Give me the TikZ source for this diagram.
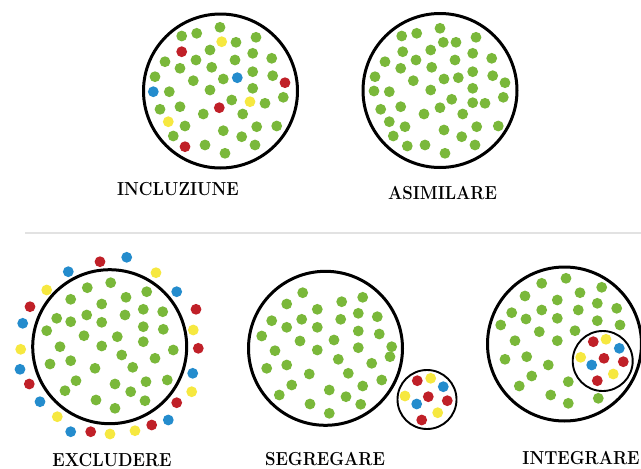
\documentclass[tikz,border=0pt]{standalone}
\usepackage{graphicx}
\definecolor{gr}{RGB}{122,184,58}
\definecolor{rd}{RGB}{192,32,40}
\definecolor{bl}{RGB}{36,140,205}
\definecolor{yl}{RGB}{246,232,64}
\definecolor{sep}{RGB}{226,226,226}
\newcommand\labtxt[1]{\scalebox{1}[1.12]{#1}}
\tikzset{
  big/.style={draw=black,line width=3pt},
  small/.style={draw=black,line width=1.9pt,fill=white},
  lab/.style={font=\bfseries\fontsize{16.8}{18}\selectfont,text=black,inner sep=0pt}
}
\begin{document}
\begin{tikzpicture}[x=1pt,y=-1pt]
\useasboundingbox (0,0) rectangle (641,469);
\fill[white] (0,0) rectangle (641,469);
% separator
\coordinate (sepL) at (25,233);
\coordinate (sepR) at (641,233);
\draw[sep,line width=2pt] (sepL) -- (sepR);

% ---------- INCLUZIUNE ----------
\draw[big] (220.5,91) circle[radius=77];
\foreach \x/\y in {220/27.3,181.7/36,196.7/33.3,236/42.3,256/37.3,210/50,252.7/53.3,165/61.7,196/60,235/60,271.7/58.3,180/68.3,211.7/67.3,252.7/71.7,155/76.7,193.3/80.7,223.3/79,272.7/75.7,169.3/91.7,210/90,252.7/88.3,283.3/97.3,231.7/100,265/103.3,160/109.3,180/106.7,203.3/114,242.7/114,185/126,223.3/130.7,256.7/126.7,276.7/126,173.3/136,241.7/136.7,205/145,255/145,225/153.3}
  \fill[gr] (\x,\y) circle[radius=5.4];
\foreach \x/\y/\c in {221.7/41.7/yl,181.7/51.7/rd,237.3/77.7/bl,285/82.7/rd,153.3/91.7/bl,250/101.7/yl,219.3/107.7/rd,168.3/121.7/yl,185/146.7/rd}
  \fill[\c] (\x,\y) circle[radius=5.4];
\node[lab] (incl) at (178,189) {\labtxt{INCLUZIUNE}};

% ---------- ASIMILARE ----------
\draw[big] (440,90.5) circle[radius=77];
\foreach \x/\y in {440/28.3,401.7/36,416.7/33.3,443.3/42.3,456/42.3,476/37.3,402.7/51.7,430.7/50,472.7/53.3,385/61.7,416/60,455/60,491.7/58.3,400.7/68.3,431.7/67.3,472.7/71.7,375/76.7,413.3/80.7,444/79,458.3/77.7,492.7/75.7,505/82.7,374/91,389.3/91.7,430.7/90,472.7/88.3,503.3/97.3,451.7/99.3,472.7/102.7,485/103.3,380.7/109.3,400.7/106.7,440/107.7,424/114,462.7/114,389.3/121.7,405/126.7,444/130,476.7/126.7,498.3/126,393.3/136,461.7/136.7,407.3/146,425/145,475/145,445/153.3}
  \fill[gr] (\x,\y) circle[radius=5.4];
\node[lab] (asim) at (442.5,193) {\labtxt{ASIMILARE}};

% ---------- EXCLUDERE ----------
\draw[big] (109.7,346.7) circle[radius=77];
\foreach \x/\y in {110.7/282.7,87.3/287.7,146.7/291.7,70.7/299.3,126/297.3,101.7/304,143.3/309.3,162.7/311.7,86.7/315,125/315,56.7/318.3,70.7/321.7,101.7/322.3,143.3/326.7,163.3/329.3,46.7/330.7,84/335.7,117.3/336.7,143.3/341.7,60/346.7,101.7/346,173.3/350,121.7/355,155/358.3,70.7/360.7,50/364,95/368.3,132.7/367.3,76/380.7,146/381.7,167.3/380,115/384,65/390.7,130.7/391.7,96/400,145/400.7,115/408.3}
  \fill[gr] (\x,\y) circle[radius=5.4];
\foreach \x/\y/\c in {100/261.7/rd,126.7/257.3/bl,68.3/271.7/bl,156/272.7/yl,46.7/290/yl,176.7/291.7/bl,30/306.7/rd,196/309.3/rd,22.7/323.3/bl,193.3/330/yl,20.7/349.3/yl,198.3/348.3/rd,20/369.3/bl,192.7/373.3/bl,29.3/384/rd,191.7/391.7/yl,40/401.7/bl,176.7/402.7/rd,57.3/416.7/yl,168.3/420/bl,70.7/431.7/bl,90.7/431.7/rd,110/434/yl,135/430.7/yl,151.7/425/rd}
  \fill[\c] (\x,\y) circle[radius=5.4];
\node[lab] (excl) at (112,460) {\labtxt{EXCLUDERE}};

% ---------- SEGREGARE ----------
\draw[big] (325.5,348.3) circle[radius=77];
\foreach \x/\y in {302.7/292.7,286.7/304,341.7/301.7,362.7/297.3,317.3/309.3,358.3/313.3,377.3/316.7,271.7/320.7,301.7/319.3,340.7/319.3,286.7/327.3,317.3/327.3,358.3/331,379.3/334,261.7/336,300/341,334/340,275/350.7,317.3/350,358.3/347.7,391.7/346.7,390/356.7,338.3/359.3,371.7/363.3,286.7/365,266.7/368.3,309.3/374,348.3/373.3,381.7/380,291.7/385,329.3/390,362.7/386,279.3/395,346/396.7,310/404,360.7/404.3,329.3/413.3}
  \fill[gr] (\x,\y) circle[radius=5.4];
\draw[small] (427,399.5) circle[radius=29.5];
\foreach \x/\y/\c in {417.3/380.7/rd,430.7/378.3/yl,443.3/386.7/bl,405/396/yl,428.3/396.7/rd,447.3/400.7/rd,416.7/404/bl,437.7/412.7/yl,421.7/420/rd}
  \fill[\c] (\x,\y) circle[radius=5.4];
\node[lab] (segr) at (325,459.5) {\labtxt{SEGREGARE}};

% ---------- INTEGRARE ----------
\draw[big] (564.5,344) circle[radius=77];
\foreach \x/\y in {566/278.3,541.7/283.3,580/292.7,601.7/287.3,525/296,557.3/300,597.3/303.3,511.7/312.7,541.7/310,578.3/310,616.7/308.3,526/319,557.3/318.3,597.3/320.7,620/325,500.7/325,539.3/331.7,575/330.7,515/340.7,557.3/340.7,505/359.3,526.7/356.7,548.3/365,531.7/376,568.3/381.7,519.3/386,550.7/395,568.3/403.3,598.3/398.3}
  \fill[gr] (\x,\y) circle[radius=5.4];
\draw[small] (602.7,361) circle[radius=30];
\foreach \x/\y/\c in {593.3/341.7/rd,606/339.3/yl,619.3/348.3/bl,580.7/357.3/yl,604/358.3/rd,623.3/361.7/rd,591.7/365/bl,613.3/374/yl,597.3/380.7/rd}
  \fill[\c] (\x,\y) circle[radius=5.4];
\node[lab] (integ) at (581,458) {\labtxt{INTEGRARE}};
\end{tikzpicture}
\end{document}
